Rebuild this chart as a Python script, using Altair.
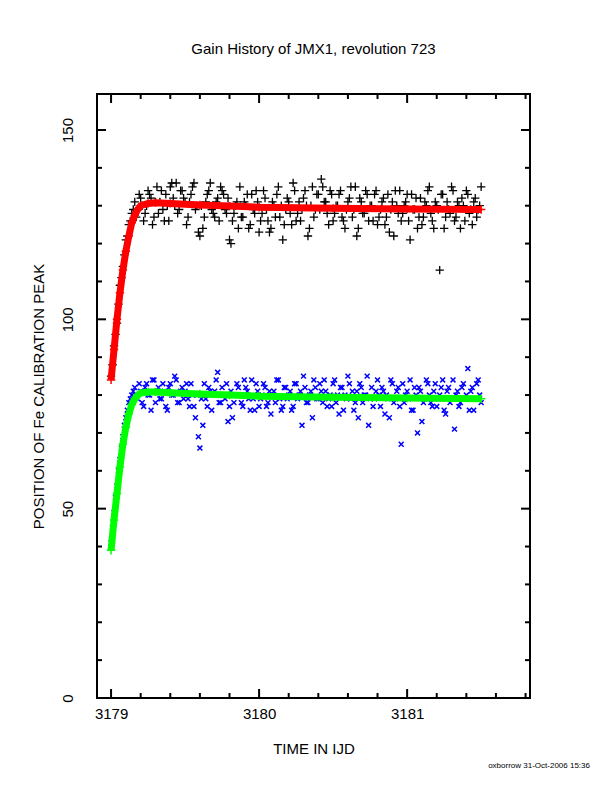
import altair as alt
import numpy as np
import pandas as pd

# sample times (IJD) - two interleaved sets of readings
t1 = np.round(np.arange(126) * 0.02 + 3179.00, 3)
t2 = np.round(np.arange(125) * 0.02 + 3179.01, 3)

black1 = [85, 93, 99, 109, 114, 121, 125, 128, 131, 129, 132,
          126, 130, 133, 125, 131, 128, 134, 126, 130, 135, 132, 136, 129, 134, 131, 127, 133, 136, 130, 122,
          124, 131, 134, 129, 127, 132, 135, 133, 128, 121, 126, 130, 124, 127, 131, 133, 125, 129, 134, 123,
          128, 132, 126, 124, 130, 133, 127, 121, 129, 131, 125, 134, 128, 126, 132, 130, 124, 135, 129, 133,
          137, 131, 128, 134, 126, 130, 133, 127, 124, 131, 135, 129, 122, 132, 128, 134, 126, 130, 133, 125,
          129, 132, 127, 123, 131, 134, 128, 126, 130, 133, 121, 129, 132, 127, 125, 131, 134, 128, 124, 130,
          113, 133, 127, 129, 135, 126, 131, 124, 130, 134, 128, 125, 132, 129, 135]
black2 = [88, 96, 104, 111, 117, 122, 126, 129, 127, 133,
          130, 128, 134, 132, 127, 135, 131, 129, 133, 126, 136, 130, 128, 134, 132, 125, 131, 135, 129, 123,
          130, 127, 133, 136, 128, 131, 126, 134, 129, 132, 120, 128, 131, 135, 127, 130, 124, 133, 128, 131,
          126, 134, 129, 123, 131, 127, 135, 130, 125, 132, 128, 136, 126, 131, 129, 134, 122, 130, 127, 133,
          129, 135, 131, 125, 133, 128, 130, 134, 126, 129, 132, 127, 135, 124, 131, 128, 133, 130, 126, 134,
          127, 131, 125, 133, 129, 122, 130, 134, 128, 131, 126, 133, 129, 124, 132, 127, 130, 135, 126, 131,
          129, 133, 124, 131, 128, 134, 127, 130, 132, 126, 133, 129, 131, 127, 130]
blue1 = [41, 49, 56, 63, 69, 74, 78, 80, 82, 79, 81,
         77, 83, 80, 84, 78, 82, 79, 81, 76, 83, 80, 84, 78, 82, 81, 79, 83, 77, 80, 66,
         72, 79, 82, 76, 81, 86, 78, 80, 83, 77, 74, 80, 82, 78, 84, 81, 76, 79, 83, 77,
         80, 82, 78, 75, 81, 84, 79, 77, 82, 80, 76, 83, 79, 81, 85, 78, 80, 74, 82, 79,
         81, 84, 77, 80, 83, 78, 75, 82, 80, 85, 79, 76, 81, 83, 78, 80, 72, 82, 79, 84,
         77, 81, 80, 74, 83, 79, 82, 67, 78, 81, 84, 76, 80, 82, 73, 79, 83, 78, 81, 77,
         80, 84, 75, 82, 79, 71, 81, 78, 83, 80, 76, 82, 79, 84, 78]
blue2 = [45, 53, 60, 66, 72, 76, 79, 81, 80, 83,
         78, 82, 80, 76, 84, 81, 79, 83, 77, 82, 80, 85, 78, 81, 79, 83, 77, 80, 74, 69,
         79, 83, 77, 81, 80, 84, 78, 82, 79, 73, 81, 78, 83, 80, 77, 82, 79, 84, 76, 81,
         79, 83, 77, 81, 80, 78, 84, 76, 82, 79, 81, 77, 83, 80, 72, 82, 78, 81, 84, 79,
         83, 78, 81, 79, 77, 84, 80, 82, 76, 79, 83, 81, 78, 74, 82, 80, 85, 79, 77, 81,
         80, 82, 75, 79, 84, 78, 81, 77, 83, 80, 79, 76, 82, 70, 81, 78, 84, 80, 77, 83,
         79, 82, 76, 81, 78, 84, 80, 77, 82, 79, 87, 81, 76, 83, 80]

fit_t = [3179.00, 3179.02, 3179.04, 3179.06, 3179.08, 3179.10, 3179.12, 3179.14, 3179.16,
         3179.18, 3179.20, 3179.25, 3179.30, 3179.40, 3179.60, 3179.80, 3180.0, 3180.5, 3181.0, 3181.5]
fit_red = [84, 92, 100, 107, 113, 118, 122, 125.5, 127.5, 129, 130, 130.6, 130.8, 130.6,
           130.2, 129.9, 129.6, 129.3, 129.1, 129.0]
fit_green = [39, 47, 54, 61, 67, 71.5, 75, 77.5, 79, 80, 80.5, 80.8, 80.8, 80.6,
             80.3, 80.0, 79.7, 79.4, 79.2, 79.0]

y_major = [0, 50, 100, 150]
y_minor = [10, 20, 30, 40, 60, 70, 80, 90, 110, 120, 130, 140]
x_major = [3179, 3180, 3181]
x_minor = [3179.2, 3179.4, 3179.6, 3179.8, 3180.2, 3180.4, 3180.6, 3180.8,
           3181.2, 3181.4, 3181.6, 3181.8]

W, H = 433, 604
FONT = "Liberation Sans"
xs = alt.Scale(domain=[3178.905, 3181.83], nice=False, zero=False)
ys = alt.Scale(domain=[0, 159.5], nice=False)

x_axis = alt.Axis(values=x_major, format="d", ticks=False, domain=False, grid=False,
                  labelFont=FONT, labelFontSize=15, labelColor="black", labelPadding=8,
                  titleFont=FONT, titleFontSize=15, titleFontWeight="normal",
                  titleColor="black", titlePadding=20)
y_axis = alt.Axis(values=y_major, ticks=False, domain=False, grid=False, labelAngle=270,
                  labelAlign="center", labelBaseline="bottom",
                  labelFont=FONT, labelFontSize=15, labelColor="black", labelPadding=22,
                  titleFont=FONT, titleFontSize=15, titleFontWeight="normal",
                  titleColor="black", titlePadding=14)


def X(field):
    return alt.X(field, scale=xs, title="TIME IN IJD", axis=x_axis)


def Y(field):
    return alt.Y(field, scale=ys, title="POSITION OF Fe CALIBRATION PEAK", axis=y_axis)


pts = pd.concat([
    pd.DataFrame({"t": t1, "v": black1, "s": "black"}),
    pd.DataFrame({"t": t2, "v": black2, "s": "black"}),
    pd.DataFrame({"t": t1, "v": blue1, "s": "blue"}),
    pd.DataFrame({"t": t2, "v": blue2, "s": "blue"}),
])
fit = pd.concat([
    pd.DataFrame({"t": fit_t, "v": fit_red, "s": "red"}),
    pd.DataFrame({"t": fit_t, "v": fit_green, "s": "green"}),
])

PLUS = "M-1,0L1,0M0,-1L0,1"
CROSS = "M-1,-1L1,1M-1,1L1,-1"

black = alt.Chart(pts[pts.s == "black"]).mark_point(
    shape=PLUS, filled=False, color="black", size=70, strokeWidth=1.3, opacity=1).encode(
    x=X("t:Q"), y=Y("v:Q"))
blue = alt.Chart(pts[pts.s == "blue"]).mark_point(
    shape=CROSS, filled=False, color="#0000ff", size=24, strokeWidth=1.5, opacity=1).encode(
    x=X("t:Q"), y=Y("v:Q"))

fit_base = alt.Chart(fit).encode(
    x=X("t:Q"), y=Y("v:Q"),
    color=alt.Color("s:N", scale=alt.Scale(domain=["red", "green"], range=["#ff0000", "#00ff00"]),
                    legend=None),
    detail="s:N")
fit_line = fit_base.mark_line(strokeWidth=7)
fit_pts = fit_base.mark_point(shape=PLUS, filled=False, size=70, strokeWidth=1.5, opacity=1)


def yticks(vals, length):
    d = pd.DataFrame({"v": vals})
    left = alt.Chart(d).mark_rule(color="black", strokeWidth=2).encode(
        y=Y("v:Q"), x=alt.value(0), x2=alt.value(length))
    right = alt.Chart(d).mark_rule(color="black", strokeWidth=2).encode(
        y=Y("v:Q"), x=alt.value(W), x2=alt.value(W - length))
    return left + right


def xticks(vals, length):
    d = pd.DataFrame({"t": vals})
    bottom = alt.Chart(d).mark_rule(color="black", strokeWidth=2).encode(
        x=X("t:Q"), y=alt.value(H), y2=alt.value(H - length))
    top = alt.Chart(d).mark_rule(color="black", strokeWidth=2).encode(
        x=X("t:Q"), y=alt.value(0), y2=alt.value(length))
    return bottom + top


footer = alt.Chart(pd.DataFrame({"s": ["oxborrow 31-Oct-2006 15:36"]})).mark_text(
    font=FONT, fontSize=8, align="right", color="black").encode(
    text="s:N", x=alt.value(W + 60), y=alt.value(H + 68))

chart = alt.layer(
    black, blue, fit_line, fit_pts,
    yticks(y_major, 9), yticks(y_minor, 5), xticks(x_major, 9), xticks(x_minor, 5), footer
).properties(
    width=W, height=H,
    title=alt.Title("Gain History of JMX1, revolution 723", font=FONT, fontSize=15,
                    fontWeight="normal", color="black", offset=36),
    autosize=alt.AutoSizeParams(type="none"),
    padding={"left": 89, "top": 86, "right": 74, "bottom": 86},
).configure_view(stroke="black", strokeWidth=2)

chart.save("out.html", embed_options={"renderer": "svg", "actions": False})
